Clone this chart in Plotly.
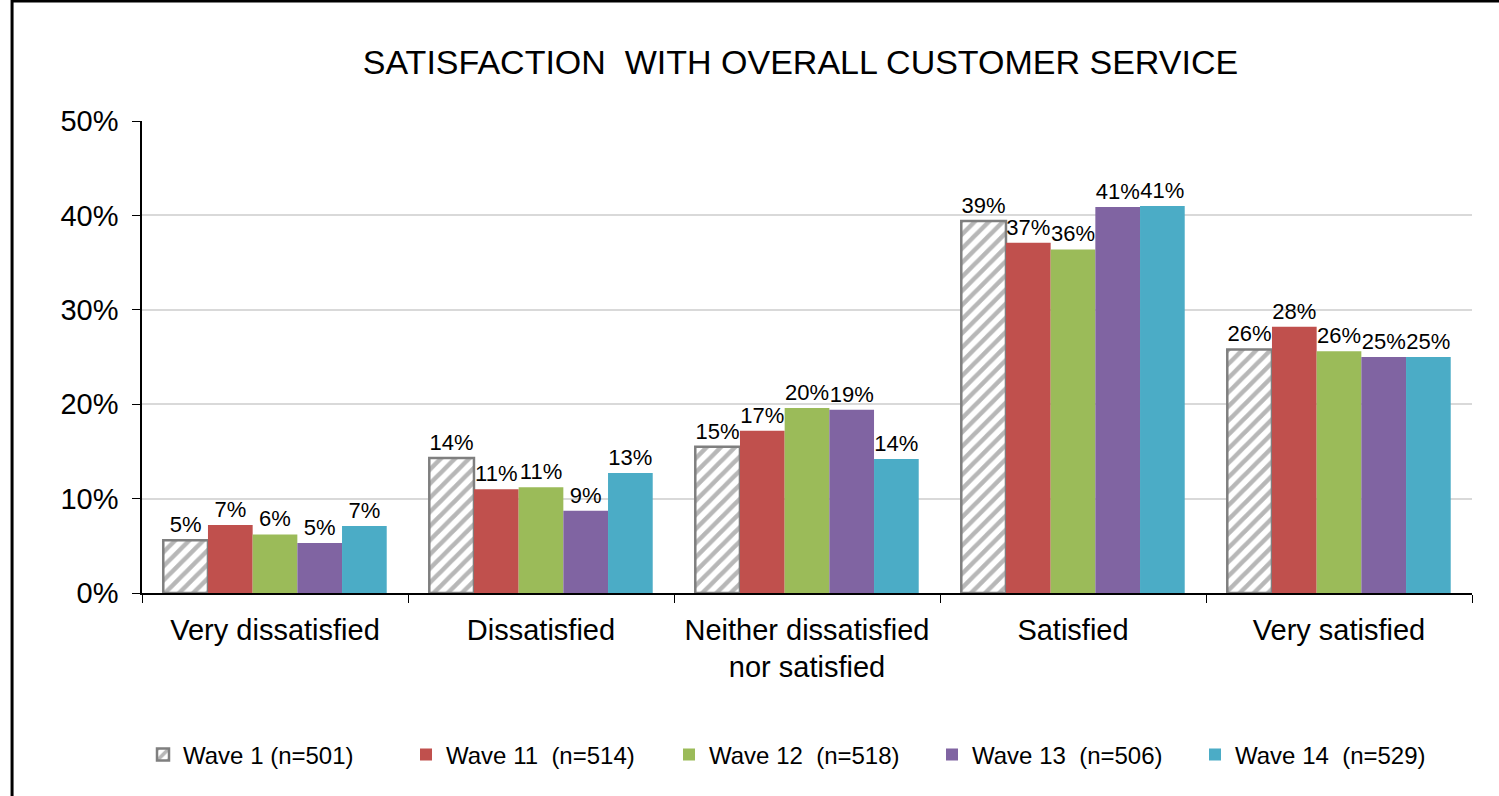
import plotly.graph_objects as go

categories = ["Very dissatisfied", "Dissatisfied", "Neither dissatisfied<br>nor satisfied", "Satisfied", "Very satisfied"]
series_names = ["Wave 1 (n=501)", "Wave 11  (n=514)", "Wave 12  (n=518)", "Wave 13  (n=506)", "Wave 14  (n=529)"]
wave1 = [5.6, 14.3, 15.5, 39.4, 25.8]
wave11 = [7.2, 11.0, 17.2, 37.1, 28.2]
wave12 = [6.2, 11.2, 19.6, 36.4, 25.6]
wave13 = [5.3, 8.7, 19.4, 40.9, 25.0]
wave14 = [7.1, 12.7, 14.2, 41.0, 25.0]
labels1 = ["5%", "14%", "15%", "39%", "26%"]
labels11 = ["7%", "11%", "17%", "37%", "28%"]
labels12 = ["6%", "11%", "20%", "36%", "26%"]
labels13 = ["5%", "9%", "19%", "41%", "25%"]
labels14 = ["7%", "13%", "14%", "41%", "25%"]
y_ticks = [0, 10, 20, 30, 40, 50]
y_tick_text = ["0%", "10%", "20%", "30%", "40%", "50%"]

FONT = "Liberation Sans, Arial, sans-serif"
values = [wave1, wave11, wave12, wave13, wave14]
labels = [labels1, labels11, labels12, labels13, labels14]
colors = ["#FFFFFF", "#C0504D", "#9BBB59", "#8064A2", "#4BACC6"]

fig = go.Figure()
for i, (name, vals, labs, col) in enumerate(zip(series_names, values, labels, colors)):
    if i == 0:
        marker = dict(color="#FFFFFF",
                      line=dict(color="#7F7F7F", width=2.5),
                      pattern=dict(shape="/", fgcolor="#707070", bgcolor="#FFFFFF",
                                   size=10, solidity=0.45))
    else:
        marker = dict(color=col, line=dict(width=0))
    fig.add_trace(go.Bar(
        x=categories, y=vals, name=name, marker=marker,
        text=labs, textposition="outside", cliponaxis=False,
        constraintext="none",
        textfont=dict(family=FONT, size=22, color="#000000"),
    ))

fig.update_layout(
    width=1499, height=796,
    paper_bgcolor="#FFFFFF", plot_bgcolor="#FFFFFF",
    margin=dict(l=142, r=27, t=121, b=203, autoexpand=False),
    barmode="group", bargap=0.16, bargroupgap=0,
    title=dict(text="SATISFACTION  WITH OVERALL CUSTOMER SERVICE",
               x=0.534, xanchor="center", y=0.922, yanchor="middle",
               font=dict(family=FONT, size=34, color="#000000")),
    font=dict(family=FONT, color="#000000"),
    legend=dict(orientation="h", xref="container", yref="container",
                x=0.0954, xanchor="left", y=0.0515, yanchor="middle",
                font=dict(family=FONT, size=24, color="#000000"),
                entrywidth=218, itemwidth=30, traceorder="normal"),
    showlegend=True,
)
fig.update_yaxes(range=[0, 50], tickvals=y_ticks, ticktext=y_tick_text,
                 showgrid=True, gridcolor="#D9D9D9", gridwidth=1.5,
                 showline=True, linecolor="#000000", linewidth=1.5,
                 ticks="outside", ticklen=8, tickcolor="#000000",
                 ticklabelstandoff=8, automargin=False,
                 tickfont=dict(family=FONT, size=29, color="#000000"),
                 zeroline=False, fixedrange=True)
fig.update_xaxes(showline=True, linecolor="#000000", linewidth=1.5,
                 ticks="outside", tickson="boundaries", ticklen=8, tickcolor="#000000",
                 ticklabelstandoff=10, automargin=False,
                 tickfont=dict(family=FONT, size=29, color="#000000"),
                 fixedrange=True)

fig.add_shape(type="rect", xref="paper", yref="paper",
              x0=-0.0977, x1=1.2, y0=-0.6, y1=1.2545,
              line=dict(color="#000000", width=3), fillcolor="rgba(0,0,0,0)")

fig.write_html("out.html", config={"displayModeBar": False},
               post_script="document.body.style.margin='0';document.body.style.overflow='hidden';")
